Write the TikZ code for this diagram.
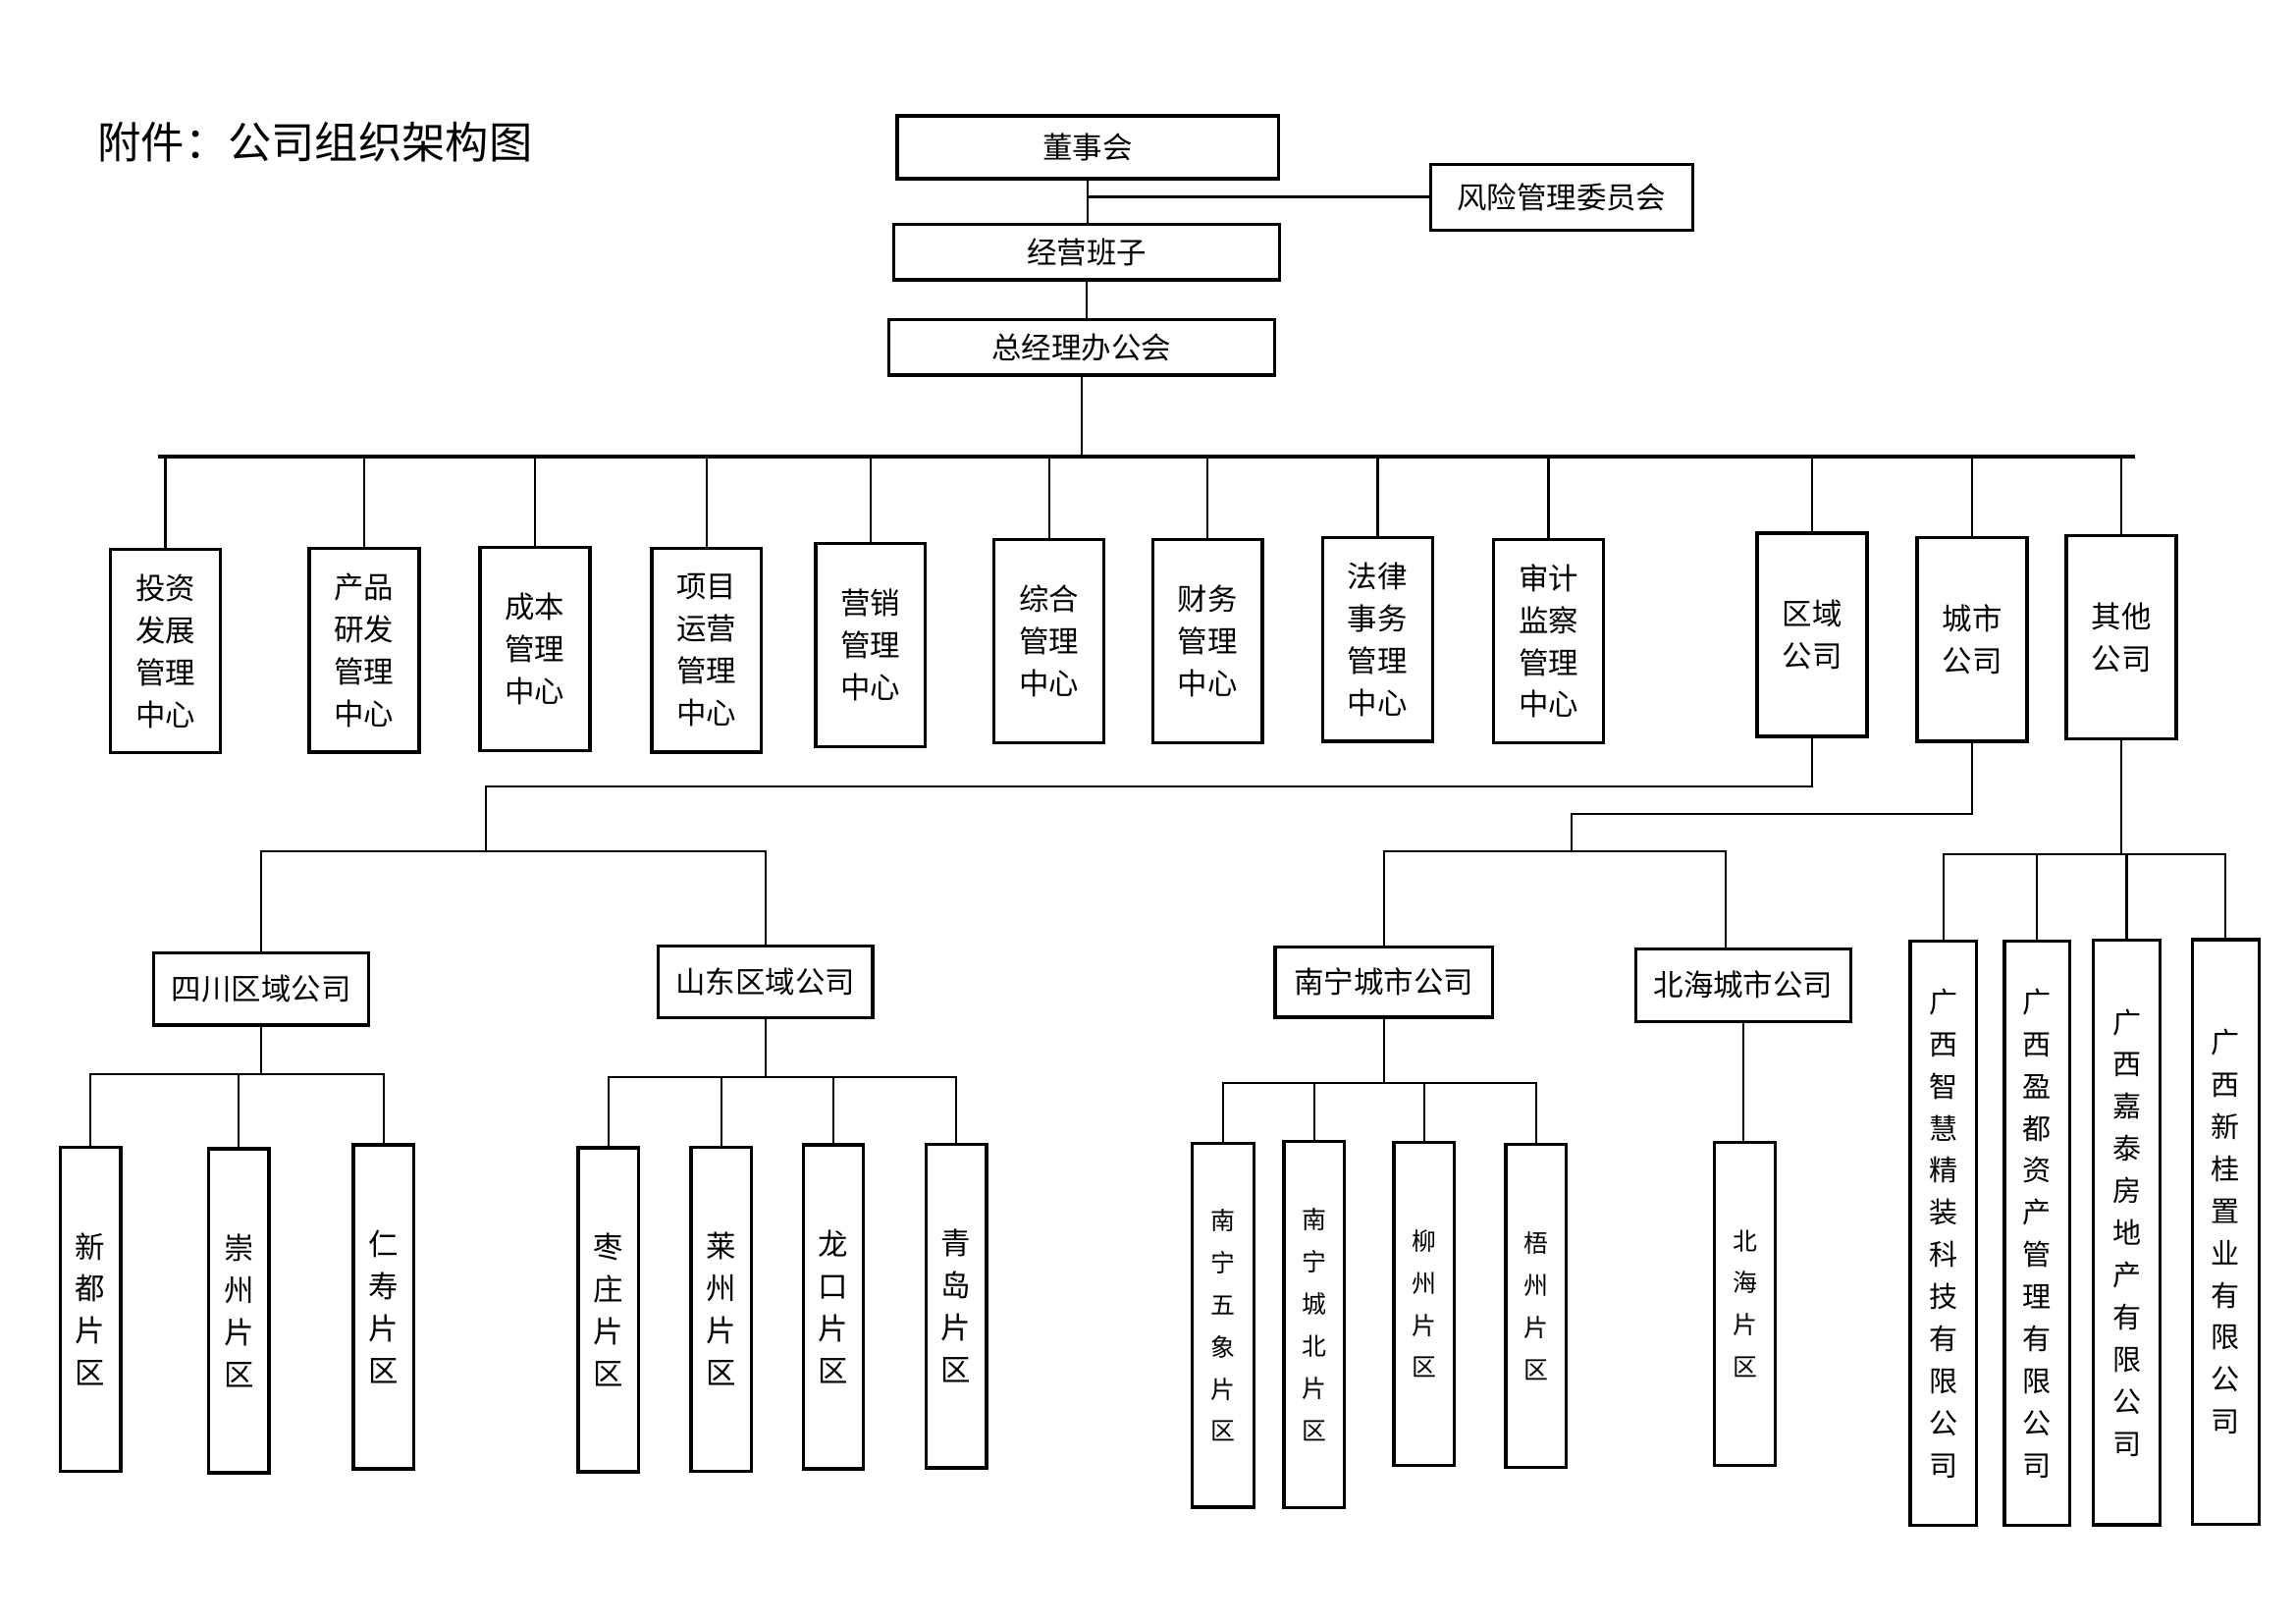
\documentclass[tikz,border=0pt]{standalone}
\usepackage{fontspec}
\newfontfamily\cjk{Noto Sans CJK SC}
\usetikzlibrary{positioning,calc}

\begin{document}
\begin{tikzpicture}[
    box/.style={rectangle, draw=black, line width=1.2pt, fill=white, inner sep=0pt, align=center,
        font=\cjk\fontsize{11}{15.5}\selectfont},
    dept/.style={box, minimum width=1.42cm, minimum height=2.63cm},
    sub/.style={box, minimum width=2.78cm, minimum height=0.93cm},
    area/.style={box, minimum width=0.78cm, minimum height=4.19cm},
    firm/.style={box, minimum width=0.86cm, minimum height=7.56cm, font=\cjk\fontsize{10.5}{15.5}\selectfont},
    link/.style={line width=0.8pt},
    bus/.style={line width=1.2pt}
]
    \useasboundingbox (0, 0) rectangle (29.7, 21);

    % Title
    \node[font=\cjk\fontsize{16}{18}\selectfont, anchor=west] (title) at (1.14, 19.16) {附件：公司组织架构图};

    % Top level
    \node[box, minimum width=4.93cm, minimum height=0.81cm] (board) at (14.07, 19.095) {董事会};
    \node[box, minimum width=3.39cm, minimum height=0.85cm] (risk) at (20.20, 18.45) {风险管理委员会};
    \node[box, minimum width=4.99cm, minimum height=0.72cm] (mgmt) at (14.06, 17.74) {经营班子};
    \node[box, minimum width=4.99cm, minimum height=0.72cm] (gm) at (13.99, 16.51) {总经理办公会};

    \draw[link] (board.south) -- (board.south |- mgmt.north);
    \draw[bus] (risk.west) -- (risk.west -| board.south);
    \draw[link] (mgmt.south) -- (mgmt.south |- gm.north);

    % Departments
    \node[dept] (inv) at (2.14, 12.58) {投资\\发展\\管理\\中心};
    \node[dept] (prod) at (4.71, 12.59) {产品\\研发\\管理\\中心};
    \node[dept] (cost) at (6.92, 12.61) {成本\\管理\\中心};
    \node[dept] (proj) at (9.14, 12.59) {项目\\运营\\管理\\中心};
    \node[dept] (mkt) at (11.26, 12.66) {营销\\管理\\中心};
    \node[dept] (adm) at (13.57, 12.71) {综合\\管理\\中心};
    \node[dept] (fin) at (15.62, 12.71) {财务\\管理\\中心};
    \node[dept] (law) at (17.82, 12.73) {法律\\事务\\管理\\中心};
    \node[dept] (aud) at (20.03, 12.71) {审计\\监察\\管理\\中心};
    \node[dept] (reg) at (23.44, 12.79) {区域\\公司};
    \node[dept] (city) at (25.51, 12.73) {城市\\公司};
    \node[dept] (oth) at (27.44, 12.76) {其他\\公司};

    % Main bus
    \coordinate (busL) at (2.04, 15.095);
    \coordinate (busR) at (27.62, 15.095);
    \draw[bus] (busL) -- (busR);
    \draw[link] (gm.south) -- (gm.south |- busL);
    \foreach \n in {inv, prod, cost, proj, mkt, adm, fin, law, aud, reg, city, oth}
        \draw[link] (\n.north) -- (\n.north |- busL);

    % Regional companies
    \node[sub] (sc) at (3.38, 8.21) {四川区域公司};
    \node[sub] (sd) at (9.90, 8.30) {山东区域公司};

    \coordinate (r1) at (23.44, 10.83);
    \coordinate (r2) at (6.29, 10.83);
    \coordinate (r3) at (6.29, 9.99);
    \draw[link] (reg.south) -- (r1) -- (r2) -- (r3);
    \draw[link] (sc.north) |- (r3) -| (sd.north);

    \node[area] (xd) at (1.17, 4.07) {新\\都\\片\\区};
    \node[area] (cz) at (3.09, 4.05) {崇\\州\\片\\区};
    \node[area] (rs) at (4.96, 4.10) {仁\\寿\\片\\区};

    \coordinate (scj) at (3.38, 7.11);
    \draw[link] (sc.south) -- (scj);
    \foreach \n in {xd, cz, rs}
        \draw[link] (\n.north) |- (scj);

    \node[area] (zz) at (7.87, 4.06) {枣\\庄\\片\\区};
    \node[area] (lz) at (9.33, 4.07) {莱\\州\\片\\区};
    \node[area] (lk) at (10.78, 4.10) {龙\\口\\片\\区};
    \node[area] (qd) at (12.37, 4.11) {青\\岛\\片\\区};

    \coordinate (sdj) at (9.90, 7.07);
    \draw[link] (sd.south) -- (sdj);
    \foreach \n in {zz, lz, lk, qd}
        \draw[link] (\n.north) |- (sdj);

    % City companies
    \node[sub, minimum width=2.81cm, minimum height=0.91cm] (nn) at (17.90, 8.30) {南宁城市公司};
    \node[sub, minimum height=0.94cm] (bh) at (22.55, 8.26) {北海城市公司};

    \coordinate (c1) at (25.51, 10.47);
    \coordinate (c2) at (20.33, 10.47);
    \coordinate (c3) at (20.33, 9.99);
    \draw[link] (city.south) -- (c1) -- (c2) -- (c3);
    \draw[link] (nn.north) |- (c3) -| ($(bh.north)+(-0.23, 0)$);

    \node[area, minimum width=0.80cm, minimum height=4.70cm, font=\cjk\fontsize{9}{15.5}\selectfont] (wx) at (15.82, 3.86) {南\\宁\\五\\象\\片\\区};
    \node[area, minimum height=4.74cm, font=\cjk\fontsize{9}{15.5}\selectfont] (cb) at (17.00, 3.87) {南\\宁\\城\\北\\片\\区};
    \node[area, minimum height=4.18cm, font=\cjk\fontsize{9}{15.5}\selectfont] (liuz) at (18.42, 4.14) {柳\\州\\片\\区};
    \node[area, minimum height=4.18cm, font=\cjk\fontsize{9}{15.5}\selectfont] (wz) at (19.87, 4.11) {梧\\州\\片\\区};
    \node[area, minimum height=4.18cm, font=\cjk\fontsize{9}{15.5}\selectfont] (bhp) at (22.57, 4.14) {北\\海\\片\\区};

    \coordinate (nnj) at (17.90, 6.99);
    \draw[link] (nn.south) -- (nnj);
    \foreach \n in {wx, cb, liuz, wz}
        \draw[link] (\n.north) |- (nnj);
    \draw[link] (bh.south) -- (bh.south |- bhp.north);

    % Other companies
    \node[firm] (zh) at (25.14, 5.05) {广\\西\\智\\慧\\精\\装\\科\\技\\有\\限\\公\\司};
    \node[firm, minimum width=0.84cm] (yd) at (26.35, 5.05) {广\\西\\盈\\都\\资\\产\\管\\理\\有\\限\\公\\司};
    \node[firm] (jt) at (27.51, 5.06) {广\\西\\嘉\\泰\\房\\地\\产\\有\\限\\公\\司};
    \node[firm] (xg) at (28.79, 5.07) {广\\西\\新\\桂\\置\\业\\有\\限\\公\\司};

    \coordinate (othj) at (27.44, 9.95);
    \draw[link] (oth.south) -- (othj);
    \foreach \n in {zh, yd, jt, xg}
        \draw[link] (\n.north) |- (othj);
\end{tikzpicture}
\end{document}
